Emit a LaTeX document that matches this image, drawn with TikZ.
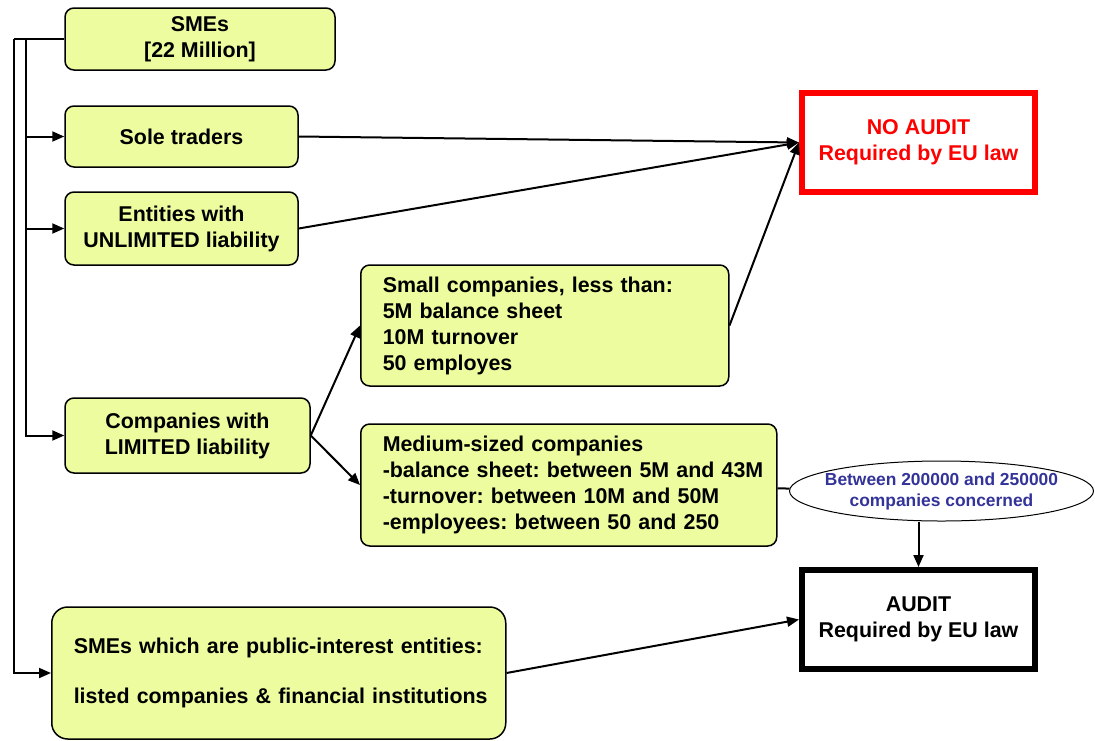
\documentclass[tikz,border=0pt]{standalone}
\usepackage{fontspec}
\setmainfont{Liberation Sans}
\usetikzlibrary{arrows.meta,shapes.geometric}
\definecolor{boxfill}{RGB}{236,252,158}
\definecolor{ellblue}{RGB}{51,51,153}

\begin{document}
\begin{tikzpicture}[x=1pt, y=-1pt,
        font=\fontsize{21.4}{26}\selectfont\bfseries\frenchspacing,
        box/.style={shape=rectangle, rounded corners=9pt, fill=boxfill, draw=black, line width=1.5pt, align=center},
        lbox/.style={box, align=left, inner xsep=7pt, anchor=west, execute at begin node={\leftskip=15pt}},
        result/.style={shape=rectangle, draw=black, line width=6pt, minimum width=233pt, minimum height=99pt, align=center},
        link/.style={line width=2pt},
        >={Triangle[length=12pt,width=10pt]}]

            \useasboundingbox (0,0) rectangle (1095,740);

            \node[box, minimum width=270pt, minimum height=62pt] (SME) at (200,39) {SMEs\\{[22 Million]}};
            \node[box, minimum width=233pt, minimum height=61pt] (Sole) at (181.5,136.5) {Sole traders};
            \node[box, minimum width=233pt, minimum height=73pt] (Entity) at (181.5,228.5) {Entities with\\UNLIMITED liability};
            \node[box, minimum width=245pt, minimum height=75pt] (Limited) at (187.5,435.5) {Companies with\\LIMITED liability};
            \node[lbox, text width=354pt, minimum height=121pt] (Small) at (360,325.5) {Small companies, less than:\\5M balance sheet\\10M turnover\\50 employes};
            \node[lbox, text width=402pt, minimum height=122pt] (Medium) at (360,485) {Medium-sized companies\\-balance sheet: between 5M and 43M\\-turnover: between 10M and 50M\\-employees: between 50 and 250};
            \node[lbox, rounded corners=16pt, text width=440pt, minimum height=132pt] (Public) at (51,673) {SMEs which are public-interest entities:\\[24pt]listed companies \& financial institutions};

            \node[result, draw=red, text=red] (NoAudit) at (918.5,142.5) {NO AUDIT\\Required by EU law};
            \node[result] (Audit) at (918.5,619.5) {AUDIT\\Required by EU law};
            \node[shape=ellipse, draw=black, line width=1pt, minimum width=304pt, minimum height=60pt, inner xsep=-25pt, inner ysep=0pt, text=ellblue, font=\fontsize{17.4}{21}\selectfont\bfseries, align=center] (Ell) at (941.5,491) {Between 200000 and 250000\\companies concerned};

            \coordinate (outer) at (14,39);
            \coordinate (inner) at (26,39);

            \draw[link] (SME.west) -- (outer);
            \draw[link, ->] (outer) |- (Public.west);
            \draw[link, ->] (inner) |- (Limited.west);
            \draw[link, ->] (inner |- Sole.west) -- (Sole.west);
            \draw[link, ->] (inner |- Entity.west) -- (Entity.west);

            \path[link, ->] (Sole.east) edge (NoAudit.west);
            \path[link, ->] (Entity.east) edge (NoAudit.west);
            \path[link, ->] (Small.east) edge (NoAudit.west);

            \path[link, ->] (Limited.east) edge (Small.west);
            \path[link, ->] (Limited.east) edge (Medium.west);

            \draw[link] (Medium) -- (Ell);
            \draw[link, ->] (Ell.south -| Audit.north) -- (Audit.north);
            \draw[link, ->] (Public.east) -- (Audit.west);
        \end{tikzpicture}
\end{document}
